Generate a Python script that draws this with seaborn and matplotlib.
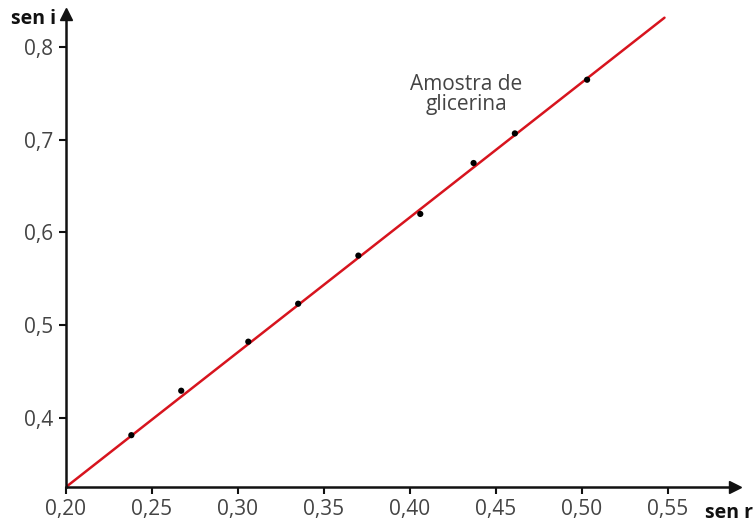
import matplotlib
matplotlib.use("Agg")
import matplotlib.pyplot as plt
import seaborn as sns
import pandas as pd
from matplotlib.ticker import FixedLocator, FuncFormatter

sns.set_theme(style="white")
plt.rcParams['font.family'] = ['Open Sans', 'DejaVu Sans']

# data
sen_r = [0.238, 0.267, 0.306, 0.335, 0.370, 0.406, 0.437, 0.461, 0.503]
sen_i = [0.381, 0.429, 0.482, 0.523, 0.575, 0.620, 0.675, 0.707, 0.765]
line_r = [0.20, 0.548]
line_i = [0.325, 0.832]
x_ticks = [0.20, 0.25, 0.30, 0.35, 0.40, 0.45, 0.50, 0.55]
y_ticks = [0.4, 0.5, 0.6, 0.7, 0.8]

fig = plt.figure(figsize=(7.53, 5.22), dpi=100)
ax = fig.add_axes([66/753, 35/522, 669/753, 473/522])

sns.lineplot(x=line_r, y=line_i, ax=ax, color="#d7141e", linewidth=1.8, zorder=2)
sns.scatterplot(x=sen_r, y=sen_i, ax=ax, color="black", s=20, edgecolor="none", zorder=3)

ax.set_xlim(0.20, 0.589)
ax.set_ylim(0.325, 0.836)
for s in ["top", "right"]:
    ax.spines[s].set_visible(False)
for s in ["left", "bottom"]:
    ax.spines[s].set_color("#111111")
    ax.spines[s].set_linewidth(1.8)

ax.xaxis.set_major_locator(FixedLocator(x_ticks))
ax.yaxis.set_major_locator(FixedLocator(y_ticks))
ax.xaxis.set_major_formatter(FuncFormatter(lambda v, p: f"{v:.2f}".replace(".", ",")))
ax.yaxis.set_major_formatter(FuncFormatter(lambda v, p: f"{v:.1f}".replace(".", ",")))
ax.tick_params(axis="both", direction="out", length=5, width=1.5, color="#111111",
               labelsize=15, labelcolor="#444444", pad=4, bottom=True, left=True)

# arrows
ax.plot(1, 0, marker=">", color="#111111", markersize=8, transform=ax.transAxes, clip_on=False)
ax.plot(0, 1, marker="^", color="#111111", markersize=8, transform=ax.transAxes, clip_on=False)

ax.text(0.4326, 0.749, "Amostra de\nglicerina", ha="center", va="center",
        fontsize=15, color="#444444", linespacing=0.95)

fig.text(11/753, 1 - 19/522, "sen i", fontsize=14, fontweight="bold", color="#111111",
         ha="left", va="center")
fig.text(705/753, 1 - 513/522, "sen r", fontsize=14, fontweight="bold", color="#111111",
         ha="left", va="center")

ax.set_xlabel("")
ax.set_ylabel("")
fig.savefig("out.png", dpi=100)
